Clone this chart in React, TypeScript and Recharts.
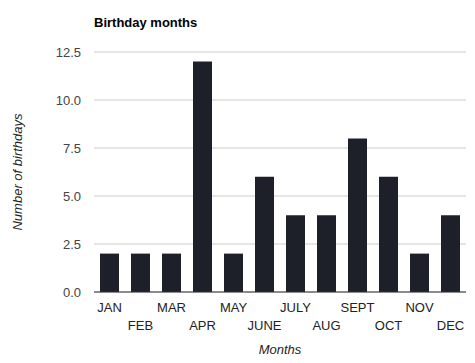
import React from "react";
import { BarChart, Bar, XAxis, YAxis, CartesianGrid } from "recharts";

const months = ["JAN", "FEB", "MAR", "APR", "MAY", "JUNE", "JULY", "AUG", "SEPT", "OCT", "NOV", "DEC"];
const birthdays = [2, 2, 2, 12, 2, 6, 4, 4, 8, 6, 2, 4];
const yTicks = [0, 2.5, 5, 7.5, 10, 12.5];

const data = months.map((m, i) => ({ month: m, count: birthdays[i] }));

const FONT = "Arial, 'Liberation Sans', sans-serif";

const XTick = (props: any) => {
  const { x, y, payload, index } = props;
  const row = index % 2;
  return (
    <text x={x} y={y + 12 + row * 18} textAnchor="middle" fontFamily={FONT} fontSize={13} fill="#222">
      {payload.value}
    </text>
  );
};

const YTick = (props: any) => {
  const { y, payload } = props;
  return (
    <text x={81} y={y + 4.5} textAnchor="end" fontFamily={FONT} fontSize={13} fill="#444">
      {Number(payload.value).toFixed(1)}
    </text>
  );
};

export default function App() {
  return (
    <div style={{ position: "absolute", left: 0, top: 0, width: 475, height: 363, background: "#fff" }}>
      <BarChart
        width={475}
        height={363}
        data={data}
        margin={{ top: 52, right: 9, bottom: 0, left: 0 }}
        barCategoryGap={6}
      >
        <CartesianGrid vertical={false} stroke="#cccccc" />
        <XAxis
          dataKey="month"
          height={71}
          tickLine={false}
          axisLine={{ stroke: "#333333" }}
          tick={<XTick />}
          interval={0}
        />
        <YAxis
          width={94}
          domain={[0, 12.5]}
          ticks={yTicks}
          tickLine={false}
          axisLine={false}
          tick={<YTick />}
        />
        <Bar dataKey="count" fill="#1e2029" isAnimationActive={false} />
        <text x={94} y={27} fontFamily={FONT} fontSize={13} fontWeight="bold" fill="#000">
          Birthday months
        </text>
        <text x={280} y={354} textAnchor="middle" fontFamily={FONT} fontSize={13} fontStyle="italic" fill="#222">
          Months
        </text>
        <text
          x={22}
          y={172}
          textAnchor="middle"
          transform="rotate(-90 22 172)"
          fontFamily={FONT}
          fontSize={13}
          fontStyle="italic"
          fill="#222"
        >
          Number of birthdays
        </text>
      </BarChart>
    </div>
  );
}
